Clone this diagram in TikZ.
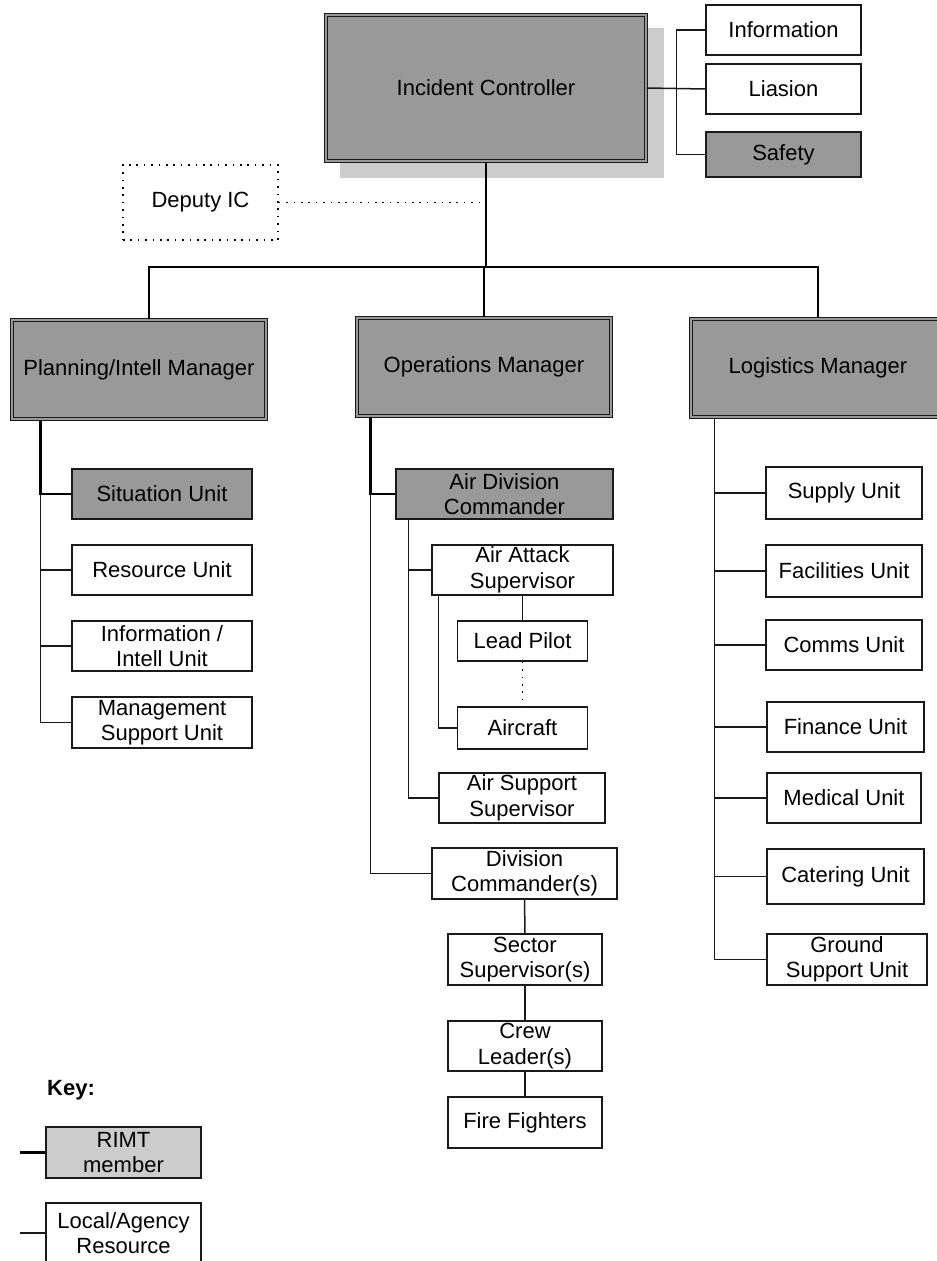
\documentclass[tikz,border=0pt]{standalone}
\usepackage{fontspec}
\setmainfont{Liberation Sans}
\usetikzlibrary{calc}
\definecolor{rimt}{HTML}{999999}
\definecolor{shadowc}{HTML}{CCCCCC}
\definecolor{keyc}{HTML}{CCCCCC}
\definecolor{edge}{HTML}{1A1A1A}
\begin{document}
\begin{tikzpicture}[x=1pt,y=-1pt,
  every node/.style={font=\fontsize{22}{25.5}\selectfont, inner sep=0pt, align=center, text=black},
  box/.style={draw=edge, line width=1.5pt, fill=white},
  rbox/.style={box, fill=rimt},
  mgr/.style={draw=edge, line width=1.1pt, double=rimt, double distance=2pt, fill=rimt},
  thinln/.style={draw=edge, line width=1.5pt},
  thickln/.style={draw=black, line width=2.4pt},
  dotln/.style={draw=black, line width=1.6pt, dash pattern=on 1.6pt off 5.8pt},
]
\useasboundingbox (0,0) rectangle (937,1261);
\clip (0,0) rectangle (937,1261);

% shadow of Incident Controller
\fill[shadowc] (340,28) rectangle (664,178);

% top level
\node[mgr, minimum width=320, minimum height=146] (ic) at (486,88) {Incident Controller};
\node[box, minimum width=155, minimum height=50] (info) at (783.5,30) {Information};
\node[box, minimum width=155, minimum height=50] (liaison) at (783.5,89) {Liasion};
\node[rbox, minimum width=155, minimum height=45] (safety) at (783.5,154.5) {Safety};
\draw[thinln] (ic.east) -- (liaison.west);
\draw[thinln] (info.west) -- ++(-29,0) |- (safety.west);

\node[draw=black, line width=1.6pt, dash pattern=on 1.6pt off 5.8pt, minimum width=155, minimum height=75] (dep) at (200.5,202.5) {Deputy IC};

% managers
\node[mgr, minimum width=254, minimum height=99] (plan) at (139,369.5) {Planning/Intell Manager};
\node[mgr, minimum width=254, minimum height=98] (ops) at (484,367) {Operations Manager};
\node[mgr, minimum width=254, minimum height=98] (log) at (818,368) {Logistics Manager};

\coordinate (busy) at (0,267);
\coordinate (pltop) at ($(plan.north)+(10,0)$);
\draw[thickln] (ic.south) -- (ic.south |- busy);
\draw[thickln] (pltop) -- (pltop |- busy) -- (log.north |- busy) -- (log.north);
\draw[thickln] (ops.north) -- (ops.north |- busy);
\draw[dotln] (dep.east) -- (dep.east -| ic.south);

% planning column
\node[rbox, minimum width=180, minimum height=50] (sit) at (162,494) {Situation Unit};
\node[box, minimum width=180, minimum height=50] (res) at (162,570) {Resource Unit};
\node[box, minimum width=180, minimum height=50] (intel) at (162,646) {Information /\\Intell Unit};
\node[box, minimum width=180, minimum height=51] (mgmt) at (162,722.5) {Management\\Support Unit};
\draw[thinln] ($(sit.west)+(-31,0)$) |- (mgmt.west);
\draw[thinln] (res.west) -- ++(-31,0);
\draw[thinln] (intel.west) -- ++(-31,0);
\draw[thickln] ($(plan.south west)+(29,0)$) |- (sit.west);

% operations column
\node[rbox, minimum width=217, minimum height=50] (adc) at (504.5,494) {Air Division\\Commander};
\node[box, minimum width=181, minimum height=50] (aas) at (522.5,570) {Air Attack\\Supervisor};
\node[box, minimum width=130, minimum height=40] (lead) at (522.5,641) {Lead Pilot};
\node[box, minimum width=130, minimum height=42] (air) at (522.5,728) {Aircraft};
\node[box, minimum width=166, minimum height=50] (asup) at (522,798) {Air Support\\Supervisor};
\node[box, minimum width=185, minimum height=51] (divc) at (524.5,873.5) {Division\\Commander(s)};
\node[box, minimum width=154, minimum height=51] (sect) at (525,959.5) {Sector\\Supervisor(s)};
\node[box, minimum width=154, minimum height=50] (crew) at (525,1046) {Crew\\Leader(s)};
\node[box, minimum width=154, minimum height=51] (ff) at (525,1122.5) {Fire Fighters};

\draw[thinln] ($(adc.west)+(-25,0)$) |- (divc.west);
\draw[thickln] ($(ops.south west)+(14,0)$) |- (adc.west);
\draw[thinln] ($(adc.south west)+(13,0)$) |- (asup.west);
\draw[thinln] ($(aas.west)+(-23,0)$) -- (aas.west);
\draw[thinln] ($(aas.south west)+(7,0)$) |- (air.west);
\draw[thinln] (aas.south) -- (lead.north);
\draw[dotln] (lead.south) -- (air.north);
\draw[thinln] (divc.south) -- (sect.north);
\draw[thinln] (sect.south) -- (crew.north);
\draw[thinln] (crew.south) -- (ff.north);

% logistics column
\node[box, minimum width=156, minimum height=52] (sup) at (844,493) {Supply Unit};
\node[box, minimum width=156, minimum height=52] (fac) at (844,571) {Facilities Unit};
\node[box, minimum width=156, minimum height=50] (com) at (844,645) {Comms Unit};
\node[box, minimum width=157, minimum height=50] (fin) at (845.5,727) {Finance Unit};
\node[box, minimum width=154, minimum height=50] (med) at (844,798) {Medical Unit};
\node[box, minimum width=157, minimum height=55] (cat) at (845.5,876.5) {Catering Unit};
\node[box, minimum width=160, minimum height=51] (gsu) at (847,959.5) {Ground\\Support Unit};
\coordinate (ltr) at ($(log.south west)+(24,0)$);
\draw[thinln] (ltr) |- (gsu.west);
\foreach \n in {sup,fac,com,fin,med,cat}{
  \draw[thinln] (\n.west) -- (\n.west -| ltr);
}

% key
\node[anchor=west, font=\fontsize{22}{25.5}\selectfont\bfseries] (key) at (47,1090) {Key:};
\node[box, fill=keyc, minimum width=155, minimum height=51] (krimt) at (123.5,1152.5) {RIMT\\member};
\node[box, minimum width=155, minimum height=60] (kloc) at (123.5,1233) {Local/Agency\\Resource};
\coordinate (kl1) at (20,1152.5);
\coordinate (kl2) at (20,1233);
\draw[thickln] (kl1) -- (krimt.west);
\draw[thinln] (kl2) -- (kloc.west);
\end{tikzpicture}
\end{document}
